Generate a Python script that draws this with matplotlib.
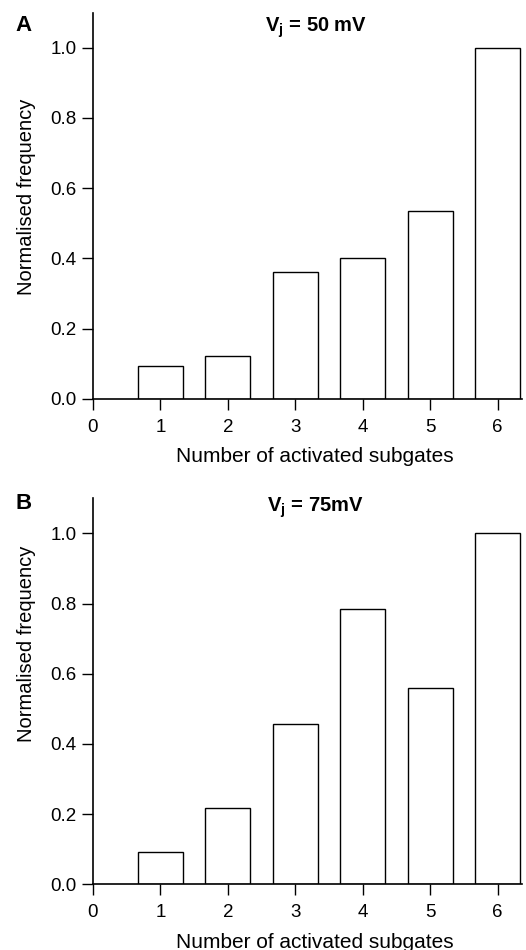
import matplotlib
matplotlib.use("Agg")
import matplotlib.pyplot as plt

plt.rcParams['font.family'] = ['Liberation Sans', 'DejaVu Sans']
plt.rcParams['mathtext.fontset'] = 'custom'
plt.rcParams['mathtext.bf'] = 'Liberation Sans:bold'
plt.rcParams['mathtext.rm'] = 'Liberation Sans'

subgates = [1, 2, 3, 4, 5, 6]
freq_50mV = [0.094, 0.121, 0.361, 0.401, 0.534, 1.0]
freq_75mV = [0.093, 0.218, 0.456, 0.785, 0.558, 1.0]

# letter, title, data, axes rect, y position of ylabel, title/letter heights (fig coords)
panels = [
    ("A", r"V$_\mathbf{j}$ = 50 mV", freq_50mV, [0.1768, 0.5803, 0.8156, 0.4063], 0.522, 0.9705, 0.973),
    ("B", r"V$_\mathbf{j}$ = 75mV", freq_75mV, [0.1768, 0.0692, 0.8156, 0.4063], 0.622, 0.4653, 0.4700),
]

fig = plt.figure(figsize=(5.26, 9.5), dpi=100)

for letter, title, freqs, rect, ylab_y, title_y, letter_y in panels:
    ax = fig.add_axes(rect)
    ax.bar(subgates, freqs, width=2 / 3, color="white", edgecolor="black", linewidth=1.0)
    ax.set_xlim(0, 6.36)
    ax.set_ylim(0, 1.1)
    ax.set_xticks(range(0, 7))
    ax.set_yticks([0.0, 0.2, 0.4, 0.6, 0.8, 1.0])
    ax.set_yticklabels(["0.0", "0.2", "0.4", "0.6", "0.8", "1.0"])
    ax.spines["top"].set_visible(False)
    ax.spines["right"].set_visible(False)
    for side in ("left", "bottom"):
        ax.spines[side].set_linewidth(1.2)
    ax.tick_params(direction="out", length=8, width=1.0, labelsize=13.5)
    ax.tick_params(axis="x", pad=6.5)
    ax.tick_params(axis="y", pad=4)
    ax.set_xlabel("Number of activated subgates", fontsize=15)
    ax.set_ylabel("Normalised frequency", fontsize=14.5)
    ax.xaxis.set_label_coords(0.517, -0.126)
    ax.yaxis.set_label_coords(-0.133, ylab_y)
    fig.text(0.6, title_y, title, ha="center", va="center", fontsize=14.5, fontweight="bold")
    fig.text(0.044, letter_y, letter, ha="center", va="center", fontsize=16, fontweight="bold")

fig.savefig("out.png", dpi=100)
